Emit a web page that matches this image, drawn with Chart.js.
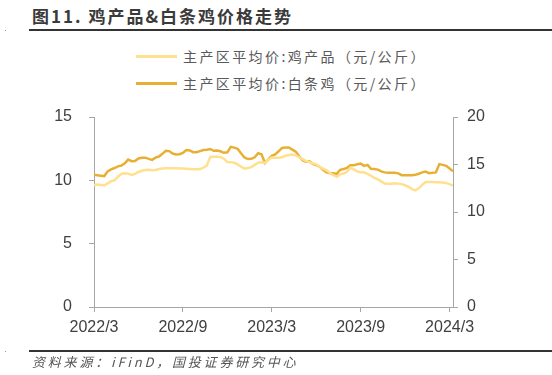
<!DOCTYPE html>
<html>
<head>
<meta charset="utf-8">
<script src="https://cdn.jsdelivr.net/npm/chart.js@4.4.1/dist/chart.umd.min.js"></script>
<style>
    body { margin: 0; width: 552px; height: 375px; background: #fff; position: relative; overflow: hidden; font-family: "Noto Sans CJK SC", sans-serif; }
    #title { position: absolute; left: 32px; top: 4px; font-size: 17px; font-weight: 700; color: #3a3a3a; letter-spacing: 2px; line-height: 24px; }
    .rule { position: absolute; left: 29px; right: 0; height: 2px; background: #333; }
    .dot { position: absolute; left: 5px; width: 1px; height: 1px; background: #999; }
    .legend-row { position: absolute; left: 136px; height: 20px; display: flex; align-items: center; }
    .legend-line { width: 41px; height: 3px; margin-right: 6px; }
    .legend-text { font-size: 14px; color: #595959; letter-spacing: 2.4px; }
    #source { position: absolute; left: 32px; top: 352px; font-size: 13px; color: #555; font-style: italic; letter-spacing: 2.8px; line-height: 20px; }
    #chart-box { position: absolute; left: 0; top: 0; width: 552px; height: 375px; }
</style>
</head>
<body>
<div id="title">图11. 鸡产品&amp;白条鸡价格走势</div>
<div class="rule" style="top: 29px;"></div>
<div class="dot" style="top: 30px;"></div>

<div id="legend"></div>

<div id="chart-box"><canvas id="price-chart"></canvas></div>

<div class="rule" style="top: 350px;"></div>
<div class="dot" style="top: 351px;"></div>
<div id="source">资料来源：iFinD，国投证券研究中心</div>

<script>
// series names
const seriesNames = ['主产区平均价:鸡产品（元/公斤）', '主产区平均价:白条鸡（元/公斤）'];
const seriesColors = ['#FFE08F', '#E8B033'];

// x axis: weekly points, labels every 26 weeks
const tickWeeks = [0, 26, 52, 78, 104];
const tickLabels = ['2022/3', '2022/9', '2023/3', '2023/9', '2024/3'];

// 鸡产品, left axis (元/公斤), weekly
const chickenProducts = [
    9.61, 9.67, 9.64, 9.59, 9.76, 9.94, 10.00, 10.29, 10.51, 10.55,
    10.53, 10.43, 10.51, 10.66, 10.76, 10.81, 10.84, 10.79, 10.82, 10.90,
    10.93, 10.95, 10.95, 10.95, 10.95, 10.94, 10.93, 10.92, 10.90, 10.87,
    10.88, 10.89, 11.00, 11.18, 11.85, 11.87, 11.87, 11.85, 11.71, 11.44,
    11.43, 11.40, 11.26, 11.08, 10.92, 10.98, 11.04, 11.22, 11.40, 11.42,
    11.38, 11.62, 11.80, 11.78, 11.79, 11.82, 11.94, 12.00, 12.04, 11.97,
    11.82, 11.67, 11.53, 11.44, 11.34, 11.26, 11.07, 10.93, 10.79, 10.58,
    10.41, 10.28, 10.47, 10.53, 10.67, 10.99, 10.87, 10.71, 10.63, 10.63,
    10.51, 10.36, 10.20, 10.08, 9.92, 9.75, 9.74, 9.74, 9.76, 9.74,
    9.70, 9.61, 9.48, 9.31, 9.21, 9.37, 9.64, 9.86, 9.87, 9.87,
    9.85, 9.84, 9.82, 9.78, 9.70, 9.59
];

// 白条鸡, right axis (元/公斤), weekly
const whiteStripChicken = [
    13.91, 13.86, 13.82, 13.78, 14.28, 14.49, 14.63, 14.80, 14.88, 15.12,
    15.52, 15.35, 15.36, 15.64, 15.70, 15.72, 15.59, 15.49, 15.72, 15.84,
    16.12, 16.44, 16.41, 16.15, 16.06, 16.08, 16.21, 16.52, 16.48, 16.30,
    16.30, 16.41, 16.52, 16.55, 16.63, 16.44, 16.48, 16.39, 16.23, 16.28,
    16.86, 16.78, 16.65, 16.18, 15.74, 15.57, 15.60, 15.76, 16.18, 16.07,
    15.17, 15.54, 15.91, 16.07, 16.39, 16.74, 16.78, 16.79, 16.57, 16.36,
    15.86, 15.44, 15.30, 15.33, 15.07, 14.93, 14.77, 14.44, 14.17, 14.07,
    14.07, 14.01, 14.44, 14.52, 14.65, 14.91, 14.91, 15.02, 15.09, 14.86,
    14.96, 14.54, 14.52, 14.46, 14.28, 14.17, 14.12, 14.12, 14.12, 14.07,
    13.88, 13.88, 13.88, 13.88, 13.91, 14.03, 14.17, 14.25, 14.09, 14.12,
    14.17, 15.04, 14.96, 14.86, 14.57, 14.28
];

// legend (two stacked rows)
const legendTops = [46, 73];
seriesNames.forEach((name, i) => {
    const row = document.createElement('div');
    row.className = 'legend-row';
    row.style.top = legendTops[i] + 'px';
    row.innerHTML = `<div class="legend-line" style="background:${seriesColors[i]}"></div><span class="legend-text">${name}</span>`;
    document.getElementById('legend').appendChild(row);
});

const axisColor = '#a6a6a6';
const tickFont = { family: '"Liberation Sans", Arial, sans-serif', size: 16 };

const ctx = document.getElementById('price-chart').getContext('2d');
new Chart(ctx, {
    type: 'line',
    data: {
        datasets: [
            {
                label: seriesNames[0],
                data: chickenProducts.map((v, i) => ({ x: i, y: v })),
                borderColor: seriesColors[0],
                borderWidth: 2.5,
                pointRadius: 0,
                tension: 0,
                yAxisID: 'y'
            },
            {
                label: seriesNames[1],
                data: whiteStripChicken.map((v, i) => ({ x: i, y: v })),
                borderColor: seriesColors[1],
                borderWidth: 2.5,
                pointRadius: 0,
                tension: 0,
                yAxisID: 'y1'
            }
        ]
    },
    options: {
        responsive: true,
        maintainAspectRatio: false,
        animation: false,
        layout: { padding: { left: 0, right: 0, top: 117, bottom: 33 } },
        plugins: {
            legend: { display: false },
            tooltip: { enabled: false }
        },
        scales: {
            x: {
                type: 'linear',
                min: 0,
                max: 105,
                afterBuildTicks: (scale) => { scale.ticks = tickWeeks.map(v => ({ value: v })); },
                afterFit: (scale) => { scale.height = 35; },
                ticks: {
                    autoSkip: false,
                    maxRotation: 0,
                    padding: 6,
                    color: '#404040',
                    font: tickFont,
                    callback: (v) => tickLabels[tickWeeks.indexOf(v)]
                },
                grid: { drawOnChartArea: false, color: axisColor, tickLength: 5 },
                border: { color: axisColor }
            },
            y: {
                position: 'left',
                min: 0,
                max: 15,
                afterFit: (scale) => { scale.width = 94; },
                ticks: { stepSize: 5, padding: 17, color: '#404040', font: tickFont },
                grid: { drawOnChartArea: false, color: axisColor, tickLength: 5 },
                border: { color: axisColor }
            },
            y1: {
                position: 'right',
                min: 0,
                max: 20,
                afterFit: (scale) => { scale.width = 99; },
                ticks: { stepSize: 5, padding: 9, color: '#404040', font: tickFont },
                grid: { drawOnChartArea: false, color: axisColor, tickLength: 5 },
                border: { color: axisColor }
            }
        }
    }
});
</script>
</body>
</html>
